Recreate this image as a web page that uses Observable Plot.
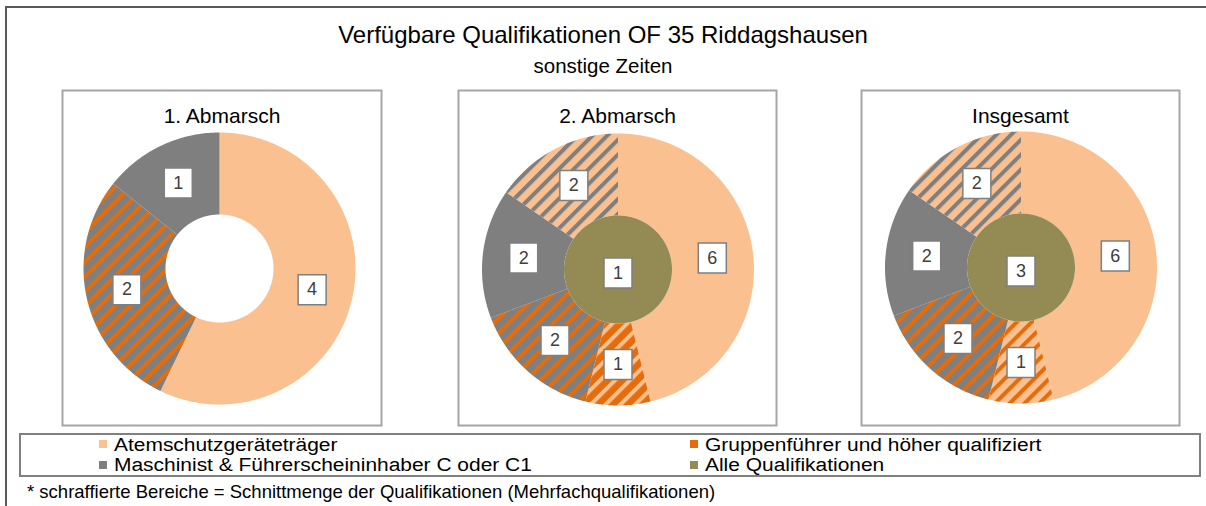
<!DOCTYPE html>
<html>
<head>
<meta charset="utf-8">
<script src="https://cdn.jsdelivr.net/npm/d3@7"></script>
<script src="https://cdn.jsdelivr.net/npm/@observablehq/plot@0.6"></script>
<style>
  html, body { margin: 0; padding: 0; background: #fff; }
  body { width: 1206px; height: 506px; overflow: hidden; position: relative;
         font-family: "Liberation Sans", Arial, sans-serif; color: #000; }
  #outer { position: absolute; left: 5px; top: 6px; width: 1400px; height: 700px;
           border-left: 2px solid #595959; border-top: 2px solid #595959; }
  .abs { position: absolute; white-space: nowrap; line-height: 1; }
  #title { left: 0; width: 1206px; text-align: center; font-size: 24px; top: 23px; }
  #subtitle { left: 0; width: 1206px; text-align: center; font-size: 20.5px; top: 56px; }
  #legend { position: absolute; left: 19px; top: 433px; width: 1182px; height: 44px;
            box-sizing: border-box; border: 2px solid #808080; }
  .sw { position: absolute; width: 8px; height: 8px; }
  .lt { position: absolute; line-height: 19px; white-space: nowrap;
        transform: scaleX(1.115); transform-origin: 0 50%; }
  #note { left: 27px; top: 482.5px; font-size: 18.5px; }
  .panel { position: absolute; }
</style>
</head>
<body>
<svg width="0" height="0" style="position:absolute">
  <defs id="patterns"></defs>
</svg>
<div id="outer"></div>
<div id="title" class="abs"></div>
<div id="subtitle" class="abs"></div>
<div id="panels"></div>
<div id="legend"></div>
<div id="note" class="abs"></div>
<script>
// ---------------- DATA ----------------
const chartTitle = "Verfügbare Qualifikationen OF 35 Riddagshausen";
const chartSubtitle = "sonstige Zeiten";
const footnote = "* schraffierte Bereiche = Schnittmenge der Qualifikationen (Mehrfachqualifikationen)";

const panelTitles = ["1. Abmarsch", "2. Abmarsch", "Insgesamt"];

// outer ring segments (clockwise from 12 o'clock)
// A = Atemschutzgeräteträger, G = Gruppenführer, M = Maschinist; two letters = hatched intersection
const ringKeys = [
  ["A", "MG", "M"],
  ["A", "GA", "MG", "M", "AM"],
  ["A", "AG", "MG", "M", "AM"]
];
const ringValues = [
  [4, 2, 1],
  [6, 1, 2, 2, 2],
  [6, 1, 2, 2, 2]
];
// inner pie: "Alle Qualifikationen"
const centerValues = [0, 1, 3];

const legendLabels = [
  "Atemschutzgeräteträger",
  "Gruppenführer und höher qualifiziert",
  "Maschinist & Führerscheininhaber C oder C1",
  "Alle Qualifikationen"
];

// ---------------- STYLES ----------------
const colPeach = "#FAC090", colOrange = "#E46C0A", colGrey = "#7F7F7F", colOlive = "#948A54";
const legendColors = [colPeach, colOrange, colGrey, colOlive];

// hatch patterns: [id, background, stripe]
const hatchDefs = [
  ["hMG", colGrey, colOrange],
  ["hGA", colOrange, colPeach],
  ["hAG", colPeach, colOrange],
  ["hAM", colPeach, colGrey]
];
const P = 10.5, SW = 4;
const defs = document.getElementById("patterns");
defs.innerHTML = hatchDefs.map(([id, bg, st]) =>
  `<pattern id="${id}" width="${P}" height="${P}" patternUnits="userSpaceOnUse" patternTransform="rotate(45)">
     <rect width="${P}" height="${P}" fill="${bg}"/>
     <rect width="${SW}" height="${P}" fill="${st}"/>
   </pattern>`).join("");

const fillFor = {
  A: colPeach, M: colGrey,
  MG: "url(#hMG)", GA: "url(#hGA)", AG: "url(#hAG)", AM: "url(#hAM)",
  C: colOlive
};

// ---------------- LAYOUT ----------------
const boxLeft = [61, 457, 860], boxWidth = [321, 320, 320];
const boxTop = 89, boxHeight = 337;
const centers = [[219, 268], [617.5, 269], [1020.5, 267]];
const Rpx = 136;          // outer radius in px (= 1 unit)
const rInner = 54 / 136;  // ring inner radius (units)

document.getElementById("title").textContent = chartTitle;
document.getElementById("subtitle").textContent = chartSubtitle;
document.getElementById("note").textContent = footnote;

function arcPolygon(id, fill, a0, a1, r0, r1) {
  const n = Math.max(2, Math.ceil((a1 - a0) / (Math.PI / 360)));
  const pts = [];
  for (let i = 0; i <= n; i++) {
    const a = a0 + (a1 - a0) * i / n;
    pts.push({id, fill, x: r1 * Math.sin(a), y: r1 * Math.cos(a)});
  }
  const full = Math.abs(a1 - a0 - 2 * Math.PI) < 1e-9;
  if (r0 > 0) {
    for (let i = n; i >= 0; i--) {
      const a = a0 + (a1 - a0) * i / n;
      pts.push({id, fill, x: r0 * Math.sin(a), y: r0 * Math.cos(a)});
    }
  } else if (!full) {
    pts.push({id, fill, x: 0, y: 0});
  }
  return pts;
}

const labelBox = {
  draw(ctx) { ctx.moveTo(-14, -15); ctx.lineTo(14, -15); ctx.lineTo(14, 15); ctx.lineTo(-14, 15); ctx.closePath(); }
};

const panelsDiv = document.getElementById("panels");
panelTitles.forEach((t, k) => {
  const segs = ringKeys[k].map((key, i) => ({key, value: ringValues[k][i]}));
  const arcs = d3.pie().sort(null).value(d => d.value).startAngle(0).endAngle(2 * Math.PI)(segs);
  const polys = [];
  const labels = [];
  arcs.forEach((a, i) => {
    polys.push(...arcPolygon(`s${i}`, fillFor[a.data.key], a.startAngle, a.endAngle, rInner, 1));
    const m = (a.startAngle + a.endAngle) / 2, rm = (rInner + 1) / 2;
    labels.push({x: rm * Math.sin(m), y: rm * Math.cos(m), value: a.data.value});
  });
  if (centerValues[k] > 0) {
    const c = d3.pie()([centerValues[k]])[0];
    polys.push(...arcPolygon("c", fillFor.C, c.startAngle, c.endAngle, 0, rInner));
    labels.push({x: 0, y: -0.025, value: centerValues[k]});
  }
  const W = boxWidth[k], H = boxHeight, L = boxLeft[k], T = boxTop;
  const [cx, cy] = centers[k];
  const m = 1;
  const plot = Plot.plot({
    width: W, height: H,
    margin: m,
    x: {type: "linear", domain: [(L + m - cx) / Rpx, (L + W - m - cx) / Rpx], axis: null},
    y: {type: "linear", domain: [(cy - (T + H - m)) / Rpx, (cy - (T + m)) / Rpx], axis: null},
    color: {type: "identity"},
    style: {fontFamily: '"Liberation Sans", Arial, sans-serif', background: "transparent", overflow: "visible"},
    marks: [
      Plot.line(polys, {x: "x", y: "y", z: "id", fill: "fill", stroke: "none", curve: "linear-closed"}),
      Plot.dot(labels, {x: "x", y: "y", symbol: labelBox, fill: "white", stroke: "#7F7F7F", strokeWidth: 1.5}),
      Plot.text(labels, {x: "x", y: "y", text: "value", fontSize: 18, fill: "#404040"}),
      Plot.text([t], {frameAnchor: "top", lineAnchor: "bottom", dy: 32, fontSize: 21, fill: "#000"}),
      Plot.frame({stroke: "#A6A6A6", strokeWidth: 2})
    ]
  });
  const wrap = document.createElement("div");
  wrap.className = "panel";
  wrap.style.left = L + "px";
  wrap.style.top = T + "px";
  wrap.appendChild(plot);
  panelsDiv.appendChild(wrap);
});

// legend (2 x 2)
const legend = document.getElementById("legend");
const legCols = [99, 690], legRows = [450.5, 471.5], legFont = 18.8, legLine = 19;
legendLabels.forEach((lab, i) => {
  const col = i % 2, row = Math.floor(i / 2);
  const sw = document.createElement("div");
  sw.className = "sw";
  sw.style.background = legendColors[i];
  sw.style.left = (legCols[col] - 19 - 2) + "px";
  sw.style.top = (legRows[row] - 11 - 433 - 2) + "px";
  legend.appendChild(sw);
  const tx = document.createElement("div");
  tx.className = "lt";
  tx.textContent = lab;
  tx.style.fontSize = legFont + "px";
  tx.style.left = (legCols[col] + 15 - 19 - 2) + "px";
  tx.style.top = (legRows[row] - (legLine / 2 + 0.3465 * legFont) - 433 - 2) + "px";
  legend.appendChild(tx);
});
</script>
</body>
</html>
